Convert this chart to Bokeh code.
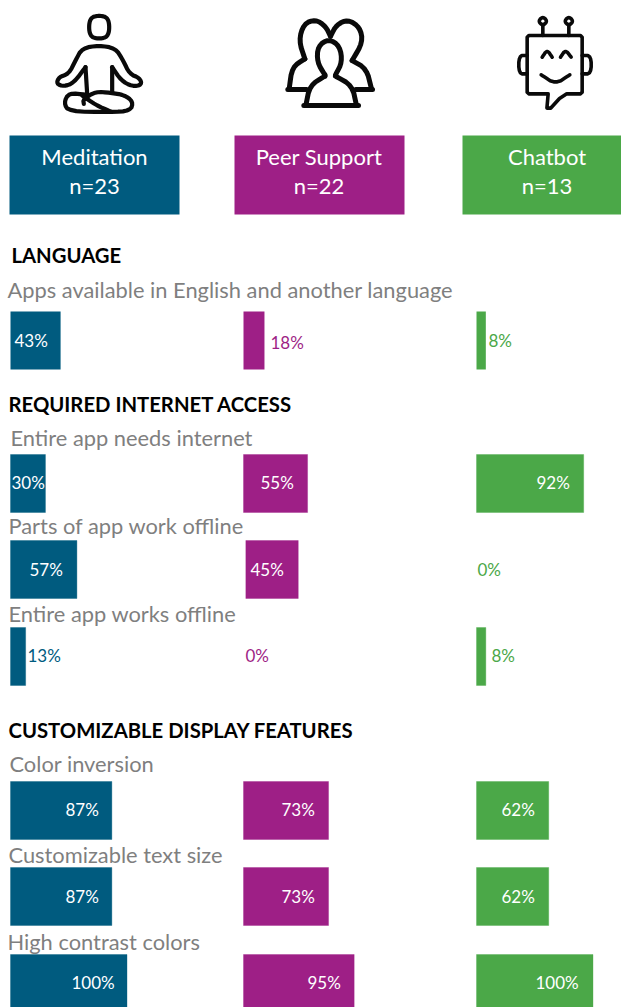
from bokeh.plotting import figure
from bokeh.models import Range1d, ColumnDataSource
from bokeh.core.properties import value
from bokeh.embed import file_html
from bokeh.resources import INLINE

# ---------- data ----------
groups = ["Meditation", "Peer Support", "Chatbot"]
group_n = ["n=23", "n=22", "n=13"]
group_colors = ["#005B7F", "#9E1F86", "#4BA848"]
language_pct = [43, 18, 8]
needs_internet_pct = [30, 55, 92]
parts_offline_pct = [57, 45, 0]
works_offline_pct = [13, 0, 8]
color_inversion_pct = [87, 73, 62]
text_size_pct = [87, 73, 62]
high_contrast_pct = [100, 95, 100]

headings = [("LANGUAGE", 11, 254), ("REQUIRED INTERNET ACCESS", 8, 403), ("CUSTOMIZABLE DISPLAY FEATURES", 8, 729)]

# label, label x, label y, values, bar top, value label x, colour mode, value label y, column nudge, outline
rows = [
    ("Apps available in English and another language", 7, 289, language_pct, 311,
     [14, 270, 488], ["w", "c", "c"], [340, 342, 340], [0, 0, 0], False),
    ("Entire app needs internet", 10, 437, needs_internet_pct, 454,
     [11, 260, 536], ["w", "w", "w"], [482, 482, 482], [0, 0, 0], True),
    ("Parts of app work offline", 8, 525, parts_offline_pct, 540,
     [29, 250, 477], ["w", "w", "c"], [569, 569, 569], [0, 2, 0], True),
    ("Entire app works offline", 8, 613, works_offline_pct, 627,
     [27, 245, 491], ["c", "c", "c"], [655, 655, 655], [0, 0, 0], True),
    ("Color inversion", 9, 763, color_inversion_pct, 781,
     [65, 281, 501], ["w", "w", "w"], [809, 809, 809], [0, 0, 0], True),
    ("Customizable text size", 8, 854, text_size_pct, 867,
     [65, 281, 501], ["w", "w", "w"], [896, 896, 896], [0, 0, 0], True),
    ("High contrast colors", 7, 941, high_contrast_pct, 954,
     [71, 307, 535], ["w", "w", "w"], [982, 982, 982], [0, 0, 0], True),
]

# ---------- layout: x axis is in percent points, each column starts 200 further on ----------
W, H = 621, 1007
PX_PER_PCT = 1.165
X0_PAGE = 10.0
COL_ORIGIN = [0, 200, 400]
BAR_H = 58
FONT = value("Lato")


def X(page_x):
    return (page_x - X0_PAGE) / PX_PER_PCT


def smooth(pts, closed=False, n=3):
    """Chaikin corner rounding of an icon outline."""
    for _ in range(n):
        out = [] if closed else [pts[0]]
        m = len(pts) if closed else len(pts) - 1
        for i in range(m):
            a, b = pts[i], pts[(i + 1) % len(pts)]
            out.append((0.75 * a[0] + 0.25 * b[0], 0.75 * a[1] + 0.25 * b[1]))
            out.append((0.25 * a[0] + 0.75 * b[0], 0.25 * a[1] + 0.75 * b[1]))
        if closed:
            out.append(out[0])
        else:
            out.append(pts[-1])
        pts = out[:-1] if closed else out
    return pts + [pts[0]] if closed else pts


def draw_icon(p, paths, ox, oy, width):
    xs, ys = [], []
    for path in paths:
        xs.append([X(ox + a / 3) for a, b in path])
        ys.append([oy + b / 3 for a, b in path])
    p.multi_line(xs, ys, line_color="#0A0A0A", line_width=width, line_join="round", line_cap="round")


p = figure(width=W, height=H, toolbar_location=None, output_backend="svg",
           x_range=Range1d(X(0), X(621)), y_range=Range1d(1007, 0),
           min_border=0, outline_line_color=None, background_fill_color="white")
p.axis.visible = False
p.grid.visible = False

# ---------- icons (decorative outlines, crop coordinates of the drawing) ----------
meditation = [
    smooth([(206, 29), (236, 38), (236, 92), (206, 101), (176, 92), (176, 38)], True),
    smooth([(165, 185), (130, 232), (100, 243), (78, 235), (85, 215), (115, 205), (135, 165), (155, 128),
            (205, 120), (255, 128), (278, 165), (297, 205), (328, 218), (334, 238), (305, 243), (272, 225),
            (245, 185)], n=2),
    smooth([(165, 185), (170, 265)], n=1),
    smooth([(245, 185), (245, 262)], n=1),
    smooth([(168, 268), (115, 262), (100, 292), (115, 318), (240, 320), (300, 316), (308, 288), (280, 268),
            (240, 262), (195, 258), (158, 282), (160, 295)], n=2),
    smooth([(155, 270), (195, 298), (240, 318)], n=2),
]
peer = [
    smooth([(163, 208), (140, 170), (142, 122), (175, 100), (208, 122), (215, 170), (195, 208)], n=2),
    [(163, 208), (163, 212)],
    smooth([(163, 212), (118, 240), (106, 300)], n=2),
    smooth([(195, 212), (245, 240), (258, 300)], n=2),
    [(100, 300), (264, 300)],
    smooth([(103, 160), (85, 105), (100, 55), (135, 42), (165, 62), (180, 92)], n=2),
    smooth([(103, 160), (65, 185), (56, 250)], n=2),
    [(52, 252), (108, 252)],
    smooth([(180, 92), (198, 58), (232, 42), (268, 65), (277, 110), (245, 165)], n=2),
    smooth([(245, 165), (288, 190), (303, 250)], n=2),
    [(256, 252), (306, 252)],
]
chatbot = [
    smooth([(100, 90), (225, 90), (245, 90), (245, 110), (245, 245), (245, 265), (225, 265), (190, 265),
            (138, 322), (143, 265)], n=1) + smooth([(143, 265), (100, 265), (80, 265), (80, 245), (80, 110),
                                                   (80, 90), (100, 90)], n=1),
    smooth([(127, 33), (141, 47), (127, 61), (113, 47)], True),
    smooth([(205, 33), (219, 47), (205, 61), (191, 47)], True),
    [(127, 61), (127, 90)],
    [(205, 61), (205, 90)],
    smooth([(80, 150), (55, 150), (55, 205), (80, 205)], n=2),
    smooth([(245, 150), (272, 150), (272, 205), (245, 205)], n=2),
    smooth([(125, 155), (140, 133), (155, 155)], n=2),
    smooth([(180, 155), (195, 133), (212, 155)], n=2),
    smooth([(122, 208), (165, 236), (208, 208)], n=2),
]
draw_icon(p, meditation, 30, 5, 4.2)
draw_icon(p, peer, 270, 5, 5)
draw_icon(p, chatbot, 500, 5, 3.6)

# group header boxes
hdr_left = [9, 234, 462]
hdr_right = [179, 404, 621]
p.quad(left=[X(v) for v in hdr_left], right=[X(v) for v in hdr_right], top=135, bottom=214,
       fill_color=group_colors, line_color=None)
hdr_cx = [X(94), X(318.5), X(546.5)]
p.text(x=hdr_cx, y=[156] * 3, text=groups, text_color="white", text_font=FONT, text_font_size="22px",
       text_align="center", text_baseline="middle")
p.text(x=hdr_cx, y=[185] * 3, text=group_n, text_color="white", text_font=FONT, text_font_size="22px",
       text_align="center", text_baseline="middle")

# headings
for t, x, y in headings:
    p.text(x=[X(x)], y=[y], text=[t], text_color="black", text_font=FONT, text_font_size="20.3px",
           text_font_style="bold", text_baseline="middle")

# rows
for label, lx, ly, vals, top, val_x, modes, val_y, nudge, outline in rows:
    p.text(x=[X(lx)], y=[ly], text=[label], text_color="#7F7F7F", text_font=FONT, text_font_size="21.85px",
           text_baseline="middle")
    lefts = [o + n for o, n in zip(COL_ORIGIN, nudge)]
    drawn = [i for i, v in enumerate(vals) if v > 0]
    src = ColumnDataSource(dict(
        left=[lefts[i] for i in drawn],
        right=[lefts[i] + vals[i] for i in drawn],
        top=[top] * len(drawn), bottom=[top + BAR_H] * len(drawn),
        color=[group_colors[i] for i in drawn]))
    p.quad(left="left", right="right", top="top", bottom="bottom", fill_color="color",
           line_color="color", line_alpha=0.35 if outline else 0, line_width=1, source=src)
    p.text(x=[X(v) for v in val_x], y=val_y, text=[f"{v}%" for v in vals],
           text_color=["white" if m == "w" else c for m, c in zip(modes, group_colors)],
           text_font=FONT, text_font_size="17px", text_baseline="middle")

open("out.html", "w").write(file_html(p, INLINE))
